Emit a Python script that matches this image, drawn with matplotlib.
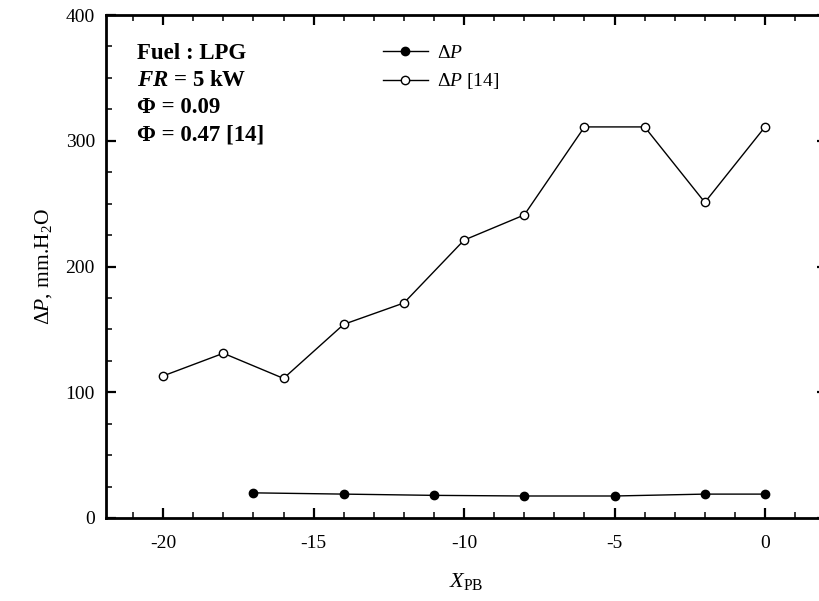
import matplotlib
matplotlib.use("Agg")
import matplotlib.pyplot as plt
from matplotlib.ticker import MultipleLocator

plt.rcParams['font.family'] = ['Liberation Serif', 'DejaVu Serif']
plt.rcParams['mathtext.fontset'] = 'custom'
plt.rcParams['mathtext.rm'] = 'Liberation Serif'
plt.rcParams['mathtext.it'] = 'Liberation Serif:italic'
plt.rcParams['mathtext.bf'] = 'Liberation Serif:bold'
plt.rcParams['mathtext.bfit'] = 'Liberation Serif:italic:bold'
plt.rcParams['axes.unicode_minus'] = False

# Pressure drop across the porous burner
x_present = [-17, -14, -11, -8, -5, -2, 0]
dp_present = [20, 19, 18, 17.5, 17.5, 19, 19]

x_ref = [-20, -18, -16, -14, -12, -10, -8, -6, -4, -2, 0]
dp_ref = [113, 131, 111, 154, 171, 221, 241, 311, 311, 251, 311]

W, H = 819, 601
fig = plt.figure(figsize=(W / 100, H / 100), dpi=100)
left, right, top, bottom = 106, 827, 15, 518
ax = fig.add_axes([left / W, 1 - bottom / H, (right - left) / W, (bottom - top) / H])

ax.plot(x_present, dp_present, '-o', color='black', lw=1.0,
        markersize=6, markerfacecolor='black', markeredgecolor='black',
        label=r'Δ$\mathit{P}$')
ax.plot(x_ref, dp_ref, '-o', color='black', lw=1.0,
        markersize=6, markerfacecolor='white', markeredgecolor='black',
        markeredgewidth=1.0, label=r'Δ$\mathit{P}$ [14]')

ax.set_xlim(-21.9, 2.06)
ax.set_ylim(0, 400)
ax.xaxis.set_major_locator(MultipleLocator(5))
ax.xaxis.set_minor_locator(MultipleLocator(1))
ax.yaxis.set_major_locator(MultipleLocator(100))
ax.yaxis.set_minor_locator(MultipleLocator(25))

ax.tick_params(which='both', direction='in', top=True, right=True,
               labelsize=14)
ax.tick_params(which='major', length=7, width=1.6)
ax.tick_params(which='minor', length=4.5, width=1.1)
ax.tick_params(axis='x', pad=12)
ax.tick_params(axis='y', pad=8)
for s in ax.spines.values():
    s.set_linewidth(2.0)

ax.set_xlabel(r'$\mathit{X}_{\mathrm{PB}}$', fontsize=16, labelpad=14)
ax.set_ylabel(r'$\mathit{ΔP}$, mm.H$_2$O', fontsize=15.5, labelpad=8)

leg = ax.legend(loc='upper left', bbox_to_anchor=(383 / W, 1 - 44 / H),
                bbox_transform=fig.transFigure, frameon=False,
                fontsize=14, handlelength=2.3, handletextpad=0.5,
                labelspacing=0.5, borderpad=0, borderaxespad=0)

lines = ['Fuel : LPG', r'$\mathbfit{FR}$ = 5 kW', 'Φ = 0.09', 'Φ = 0.47 [14]']
baselines = [59, 86, 113, 140]
for t, yb in zip(lines, baselines):
    fig.text(137 / W, 1 - yb / H, t, fontsize=16.5, fontweight='bold',
             va='baseline', ha='left')

fig.savefig('out.png', dpi=100)
